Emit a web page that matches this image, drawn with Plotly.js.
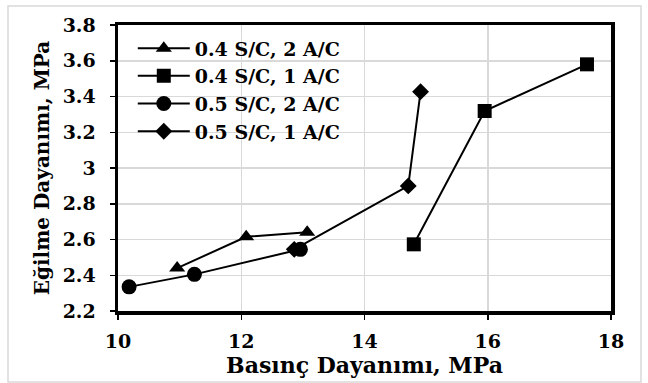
<!DOCTYPE html>
<html><head><meta charset="utf-8">
<script src="https://cdn.plot.ly/plotly-3.0.1.min.js"></script>
<style>body{margin:0;padding:0;background:#fff}#c{width:648px;height:383px}</style>
</head><body><div id="c"></div>
<script>
const names = ["0.4 S/C, 2 A/C", "0.4 S/C, 1 A/C", "0.5 S/C, 2 A/C", "0.5 S/C, 1 A/C"];
const symbols = ["triangle-up", "square", "circle", "diamond"];
const markerSizes = [14, 14, 15, 13];
const x_s1 = [10.96, 12.08, 13.07];
const y_s1 = [2.44, 2.615, 2.64];
const x_s2 = [14.80, 15.95, 17.61];
const y_s2 = [2.573, 3.319, 3.58];
const x_s3 = [10.18, 11.24, 12.96];
const y_s3 = [2.335, 2.405, 2.545];
const x_s4 = [12.86, 14.71, 14.91];
const y_s4 = [2.545, 2.90, 3.427];
const xTicks = [10, 12, 14, 16, 18];
const yTicks = [2.2, 2.4, 2.6, 2.8, 3, 3.2, 3.4, 3.6, 3.8];
const xs = [x_s1, x_s2, x_s3, x_s4];
const ys = [y_s1, y_s2, y_s3, y_s4];
const font = "DejaVu Serif, serif";
const traces = names.map((n, i) => ({
  x: xs[i], y: ys[i], name: n, type: "scatter", mode: "lines+markers",
  line: {color: "#000", width: 2},
  marker: {symbol: symbols[i], size: markerSizes[i], color: "#000"}
}));
const axisCommon = {
  showline: true, linecolor: "#000", linewidth: 3.5, mirror: true,
  showgrid: true, gridcolor: "#d9d9d9", gridwidth: 1.5,
  ticks: "outside", ticklen: 5, tickwidth: 1.5, tickcolor: "#000",
  zeroline: false, tickfont: {family: font, size: 19, color: "#000", weight: "bold"}
};
const layout = {
  width: 648, height: 383,
  margin: {l: 118, r: 37, t: 25, b: 72},
  paper_bgcolor: "#fff", plot_bgcolor: "#fff",
  showlegend: true,
  legend: {x: 0.03, y: 0.985, xanchor: "left", yanchor: "top",
    bgcolor: "rgba(255,255,255,0)", itemwidth: 52, tracegroupgap: 0,
    font: {family: font, size: 19, color: "#000", weight: "bold"}},
  xaxis: Object.assign({}, axisCommon, {
    range: [10, 18], tickvals: xTicks, ticktext: xTicks.map(String),
    ticklabelstandoff: 6,
    title: {text: "Basınç Dayanımı, MPa", standoff: 2,
      font: {family: font, size: 22, color: "#000", weight: "bold"}}
  }),
  yaxis: Object.assign({}, axisCommon, {
    range: [2.2, 3.8], tickvals: yTicks, ticktext: yTicks.map(String),
    ticklabelstandoff: 10,
    title: {text: "Eğilme Dayanımı, MPa", standoff: 8,
      font: {family: font, size: 20, color: "#000", weight: "bold"}}
  }),
  shapes: [{type: "rect", xref: "paper", yref: "paper",
    x0: -110/493, x1: 1 + 30/493, y0: -71/286, y1: 1 + 19/286,
    line: {color: "#d9d9d9", width: 1.5}, fillcolor: "rgba(0,0,0,0)", layer: "below"}]
};
Plotly.newPlot("c", traces, layout, {displayModeBar: false, staticPlot: true});
</script></body></html>
